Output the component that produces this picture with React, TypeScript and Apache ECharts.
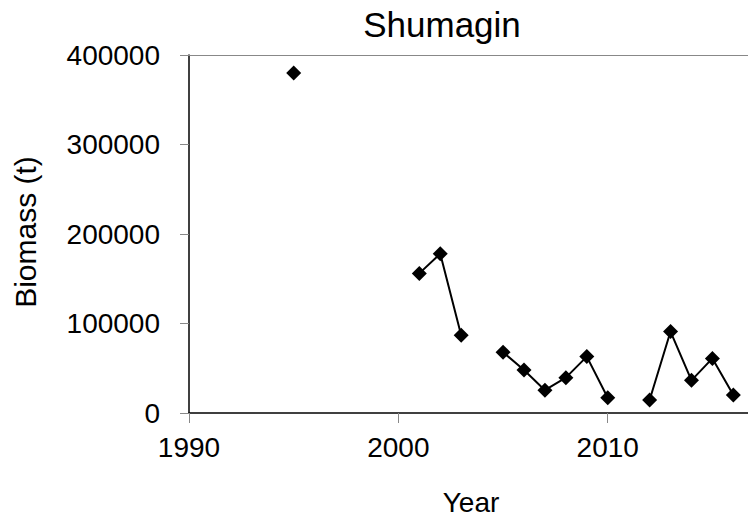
import React, { useEffect, useRef } from "react";
import * as echarts from "echarts";

const years = [1995, 1996, 2001, 2002, 2003, 2004, 2005, 2006, 2007, 2008, 2009, 2010, 2011, 2012, 2013, 2014, 2015, 2016];
const biomass: (number | null)[] = [380000, null, 156000, 178000, 87000, null, 68000, 48000, 25500, 39500, 63000, 17000, null, 14500, 91000, 36500, 61000, 20000];
const xTicks = [1990, 2000, 2010];
const titleText = "Shumagin";
const xName = "Year";
const yName = "Biomass (t)";

const FONT = "Liberation Sans, Arial, sans-serif";

export default function App() {
  const ref = useRef<HTMLDivElement>(null);
  useEffect(() => {
    if (!ref.current) return;
    const chart = echarts.init(ref.current, null, { renderer: "svg" });
    const data = years.map((y, i) => [y, biomass[i]]);
    chart.setOption({
      animation: false,
      backgroundColor: "#fff",
      grid: { left: 189, top: 55, right: 0, bottom: 107, containLabel: false },
      xAxis: [
        {
          type: "value",
          min: 1990,
          max: 2016.7,
          interval: 10,
          axisLine: { show: true, lineStyle: { color: "#000", width: 1.5 } },
          axisTick: { show: true, length: 10, lineStyle: { color: "#888", width: 1 }, customValues: xTicks },
          axisLabel: {
            color: "#000",
            fontSize: 28,
            fontFamily: FONT,
            margin: 20,
            customValues: xTicks,
            formatter: (v: number) => (v % 10 === 0 ? String(v) : ""),
          },
          splitLine: { show: false },
        },
        {
          type: "value",
          position: "top",
          min: 1990,
          max: 2016.7,
          axisLine: { show: true, lineStyle: { color: "#888", width: 1 } },
          axisTick: { show: false },
          axisLabel: { show: false },
          splitLine: { show: false },
        },
      ],
      yAxis: {
        type: "value",
        min: 0,
        max: 400000,
        interval: 100000,
        axisLine: { show: true, lineStyle: { color: "#000", width: 1.5 } },
        axisTick: { show: true, length: 9, lineStyle: { color: "#888", width: 1 } },
        axisLabel: { color: "#000", fontSize: 28, fontFamily: FONT, margin: 29, formatter: (v: number) => String(v) },
        splitLine: { show: false },
      },
      graphic: [
        { type: "text", x: 442, y: 24, style: { text: titleText, fontSize: 35, fontFamily: FONT, fill: "#000", align: "center", verticalAlign: "middle" } },
        { type: "text", x: 471, y: 502, style: { text: xName, fontSize: 28, fontFamily: FONT, fill: "#000", align: "center", verticalAlign: "middle" } },
        { type: "text", x: 25, y: 232, rotation: Math.PI / 2, style: { text: yName, fontSize: 30, fontFamily: FONT, fill: "#000", align: "center", verticalAlign: "middle" } },
      ],
      series: [
        {
          type: "line",
          data,
          connectNulls: false,
          symbol: "diamond",
          symbolSize: 15,
          itemStyle: { color: "#000" },
          lineStyle: { color: "#000", width: 2 },
        },
      ],
    });
    return () => chart.dispose();
  }, []);
  return <div ref={ref} style={{ width: 748, height: 520, position: "absolute", left: 0, top: 0 }} />;
}
